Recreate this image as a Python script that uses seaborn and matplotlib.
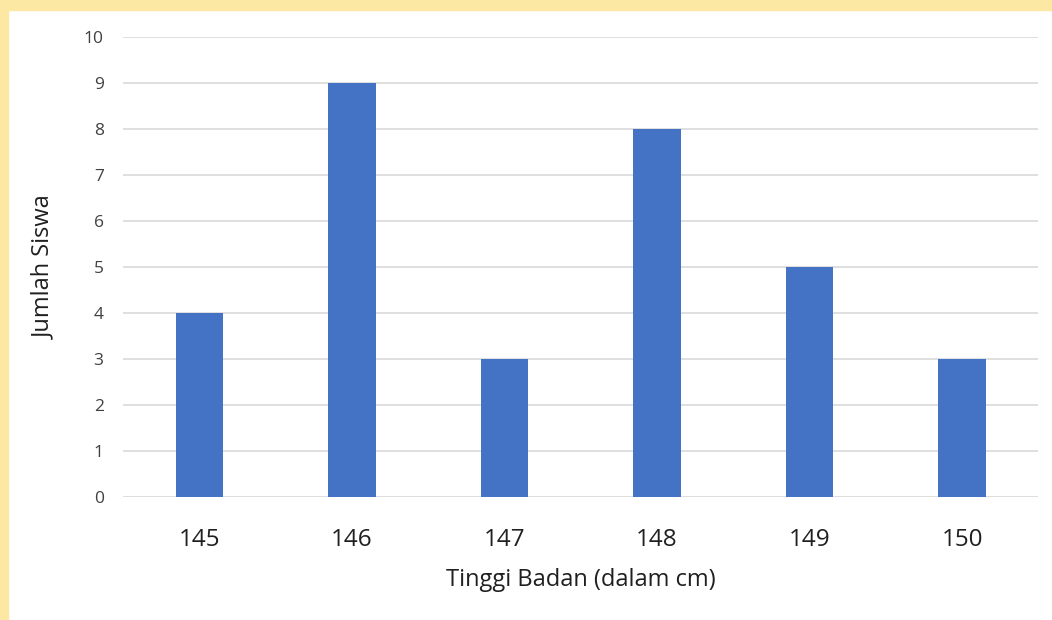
import matplotlib
matplotlib.use("Agg")
import matplotlib.pyplot as plt
import matplotlib.patches as mpatches
import seaborn as sns
import pandas as pd

# Data
tinggi = ["145", "146", "147", "148", "149", "150"]
jumlah = [4, 9, 3, 8, 5, 3]

sns.set_theme(style="white")
plt.rcParams['font.family'] = ['Open Sans', 'DejaVu Sans']

df = pd.DataFrame({"tinggi": tinggi, "jumlah": jumlah})

fig = plt.figure(figsize=(10.52, 6.2), dpi=100)
fig.patch.set_facecolor("white")

# yellow frame on top and left
fig.patches.append(mpatches.Rectangle((0, 1 - 10 / 620), 1, 10 / 620, transform=fig.transFigure,
                                      color="#FCE8A2", zorder=0))
fig.patches.append(mpatches.Rectangle((0, 0), 8 / 1052, 1, transform=fig.transFigure,
                                      color="#FCE8A2", zorder=0))

ax = fig.add_axes([0.117, 0.198, 0.870, 0.742])
sns.barplot(data=df, x="tinggi", y="jumlah", color="#4472C4", width=0.31,
            saturation=1, linewidth=0, ax=ax, zorder=3)

ax.set_ylim(0, 10)
ax.set_yticks(range(0, 11))
ax.grid(axis="y", color="#D9D9D9", linewidth=1.2, zorder=0)
for s in ax.spines.values():
    s.set_visible(False)
ax.tick_params(axis="y", labelsize=12.5, colors="#404040", length=0, pad=14)
ax.tick_params(axis="x", labelsize=17.5, colors="#202020", length=0, pad=22)
ax.set_xlabel("Tinggi Badan (dalam cm)", fontsize=17, color="#202020", labelpad=12)
ax.set_ylabel("Jumlah Siswa", fontsize=17, color="#202020", labelpad=20)

fig.savefig("out.png", dpi=100)
